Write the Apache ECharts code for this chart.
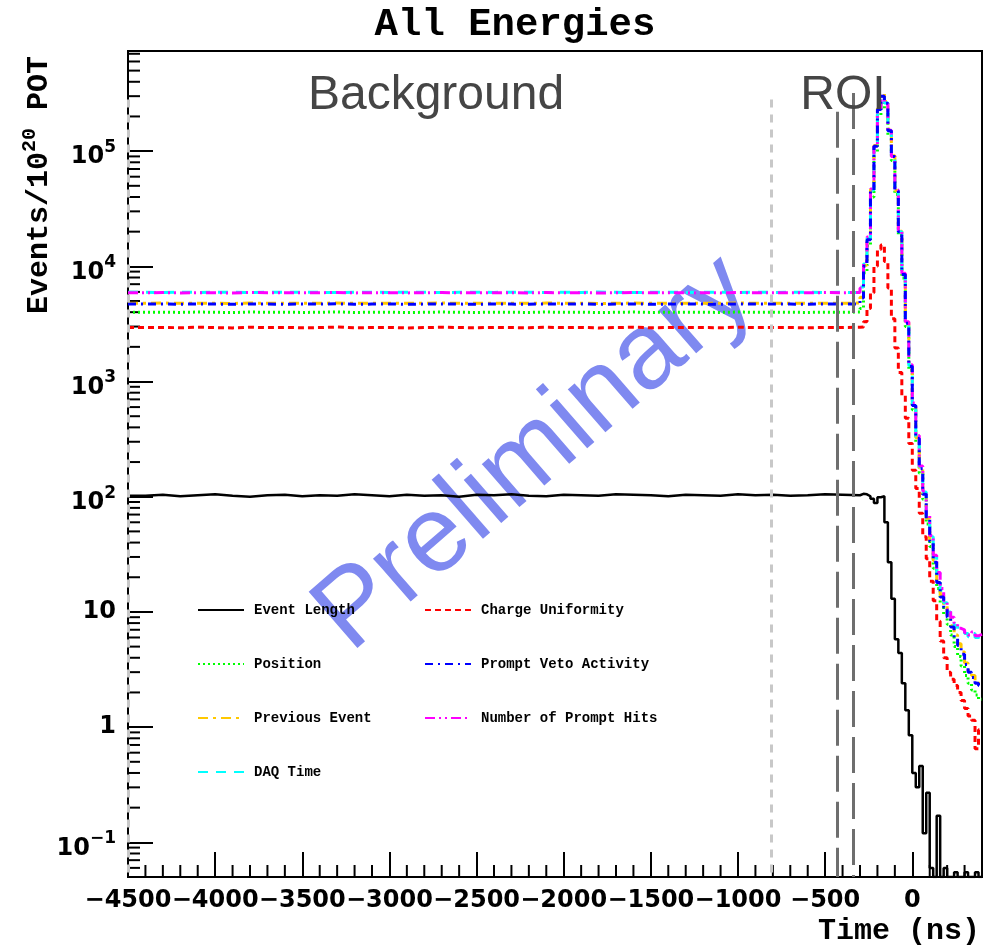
<!DOCTYPE html>
<html>
<head>
<meta charset="utf-8">
<title>All Energies</title>
<script src="https://cdn.jsdelivr.net/npm/echarts@6/dist/echarts.min.js"></script>
<style>
  html, body { margin: 0; padding: 0; background: #fff; }
  #chart { width: 986px; height: 945px; }
</style>
</head>
<body>
<div id="chart"></div>
<script>
// bin low edges in ns (100 ns bins in the background window, 20 ns around the peak), last value closes the last bin
const binEdges = [
  -4500, -4400, -4300, -4200, -4100, -4000, -3900, -3800, -3700, -3600,
  -3500, -3400, -3300, -3200, -3100, -3000, -2900, -2800, -2700, -2600,
  -2500, -2400, -2300, -2200, -2100, -2000, -1900, -1800, -1700, -1600,
  -1500, -1400, -1300, -1200, -1100, -1000, -900, -800, -700, -600,
  -500, -400, -300,
  -280, -260, -240, -220, -200, -180, -160, -140, -120, -100,
  -80, -60, -40, -20, 0, 20, 40, 60, 80, 100,
  120, 140, 160, 180, 200, 220, 240, 260, 280, 300,
  320, 340, 360, 380, 400
];

// events / 1e20 POT per bin
const eventLength = [
  102, 104, 101, 103, 105, 102, 100, 103, 104, 101,
  103, 102, 105, 103, 101, 104, 102, 103, 100, 104,
  103, 105, 102, 101, 104, 103, 102, 105, 104, 103,
  101, 104, 103, 102, 105, 103, 104, 102, 103, 105,
  104, 103, 106,
  105, 101, 96, 88, 99, 101, 60, 27, 13, 5.8,
  4.4, 2.4, 1.4, 0.85, 0.4, 0.3, 0.46, 0.12, 0.27, 0.06,
  0.05, 0.17, 0.05, 0.06, 0.05, 0.05, 0.055, 0.05, 0.05, 0.055,
  0.05, 0.05, 0.055, 0.05
];
const chargeUniformity = [
  2940, 2950, 2930, 2960, 2940, 2920, 2960, 2940, 2950, 2930,
  2940, 2970, 2930, 2940, 2950, 2920, 2940, 2960, 2940, 2930,
  2950, 2940, 2930, 2960, 2940, 2950, 2920, 2940, 2960, 2930,
  2940, 2950, 2940, 2930, 2960, 2940, 2950, 2940, 2930, 2950,
  2940, 2960, 2980,
  3300, 4300, 5900, 10000, 14000, 15300, 11000, 6500, 3500, 1950,
  1200, 760, 480, 290, 170, 118, 72, 45, 29, 18.5,
  12.5, 8.3, 5.6, 4.0, 3.0, 2.6, 2.3, 2.0, 1.7, 1.45,
  1.25, 1.15, 0.65, 0.95
];
const position = [
  3990, 4000, 3980, 4010, 3990, 3970, 4010, 3990, 4000, 3980,
  3990, 4020, 3980, 3990, 4000, 3970, 3990, 4010, 3990, 3980,
  4000, 3990, 3980, 4010, 3990, 4000, 3970, 3990, 4010, 3980,
  3990, 4000, 3990, 3980, 4010, 3990, 4000, 3990, 3980, 4000,
  3990, 4010, 4300,
  8800, 15000, 40000, 98000, 205000, 265000, 235000, 138000, 83000, 42000,
  18500, 7900, 3000, 1250, 570, 295, 160, 95, 58, 37,
  24, 16, 12, 9.5, 7.8, 6.3, 5.0, 4.1, 3.4, 2.8,
  2.4, 2.1, 1.9, 1.75
];
const promptVeto = [
  4700, 4720, 4690, 4710, 4700, 4680, 4720, 4700, 4690, 4710,
  4700, 4730, 4690, 4700, 4710, 4680, 4700, 4720, 4700, 4690,
  4710, 4700, 4690, 4720, 4700, 4710, 4680, 4700, 4720, 4690,
  4700, 4710, 4700, 4690, 4720, 4700, 4710, 4700, 4690, 4710,
  4700, 4720, 5300,
  10000, 17000, 46000, 110000, 230000, 300000, 260000, 150000, 90000, 45000,
  20000, 8500, 3200, 1350, 620, 320, 175, 105, 64, 41,
  27, 18, 13.5, 11, 9, 7.4, 6, 5.1, 4.3, 3.5,
  3.0, 2.7, 2.4, 2.3
];
const previousEvent = [
  4780, 4800, 4770, 4790, 4780, 4760, 4800, 4780, 4790, 4770,
  4780, 4810, 4770, 4780, 4790, 4770, 4780, 4800, 4780, 4770,
  4790, 4780, 4770, 4800, 4780, 4790, 4760, 4780, 4800, 4770,
  4780, 4790, 4780, 4770, 4800, 4780, 4790, 4780, 4770, 4790,
  4780, 4800, 5400,
  10200, 17200, 46500, 112000, 235000, 315000, 270000, 155000, 91000, 45500,
  20200, 8600, 3250, 1370, 630, 325, 178, 107, 65, 42,
  28, 18.5, 14, 11.5, 9.3, 7.6, 6.3, 5.3, 4.5, 3.6,
  3.1, 2.8, 2.5, 2.4
];
const promptHits = [
  5900, 5920, 5880, 5910, 5900, 5870, 5930, 5900, 5890, 5910,
  5900, 5940, 5880, 5900, 5910, 5880, 5900, 5920, 5900, 5890,
  5910, 5900, 5880, 5920, 5900, 5910, 5870, 5900, 5930, 5890,
  5900, 5910, 5900, 5880, 5920, 5900, 5910, 5900, 5890, 5920,
  5900, 5930, 6500,
  11000, 18000, 47000, 110000, 225000, 300000, 258000, 152000, 90000, 46000,
  20500, 8700, 3300, 1400, 650, 340, 185, 112, 70, 46,
  31, 22, 16, 12.5, 10.5, 9, 8, 7.2, 7.0, 6.6,
  6.3, 6.7, 6.2, 6.4
];
const daqTime = [
  5950, 5930, 5960, 5940, 5950, 5970, 5930, 5950, 5960, 5940,
  5950, 5920, 5960, 5950, 5940, 5970, 5950, 5930, 5950, 5960,
  5940, 5950, 5970, 5930, 5950, 5940, 5980, 5950, 5920, 5960,
  5950, 5940, 5950, 5970, 5930, 5950, 5940, 5950, 5960, 5930,
  5950, 5920, 6600,
  10500, 17500, 46000, 108000, 228000, 298000, 262000, 150000, 89000, 45500,
  20000, 8500, 3250, 1380, 640, 335, 182, 110, 69, 45,
  30, 21.5, 15.5, 12, 10, 8.8, 7.6, 7.0, 6.8, 6.5,
  6.1, 6.5, 6.0, 6.2
];

// cut lines: background window edges and ROI edges (time, top of the line)
const bgCutTimes = [-4500, -810];
const bgCutTop = 2.8e5;
const roiCutTimes = [-430, -340];
const roiCutTops = [2.2e5, 3.2e5];

const xMin = -4500, xMax = 400;
const yMin = 0.05, yMax = 7.4e5;

const legendLeft = ['Event Length', 'Position', 'Previous Event', 'DAQ Time'];
const legendRight = ['Charge Uniformity', 'Prompt Veto Activity', 'Number of Prompt Hits'];

// minor ticks (ROOT style)
const xMinorTicks = [];
for (let t = xMin + 100; t < xMax; t += 100) if (t % 500 !== 0) xMinorTicks.push(t);
const yMinorTicks = [];
for (let e = -2; e <= 5; e++) {
  for (let m = 2; m <= 9; m++) {
    const v = m * Math.pow(10, e);
    if (v > yMin * 1.01 && v < yMax) yMinorTicks.push(v);
  }
}

function toSteps(values) {
  const pts = values.map((v, i) => [binEdges[i], v]);
  pts.push([binEdges[values.length], values[values.length - 1]]);
  return pts;
}

function histo(name, values, color, dash, width) {
  return {
    name: name,
    type: 'line',
    step: 'end',
    symbol: 'none',
    clip: true,
    data: toSteps(values),
    lineStyle: { color: color, width: width, type: dash },
    itemStyle: { color: color },
    emphasis: { disabled: true }
  };
}

const mono = 'Liberation Mono';
const sans = 'DejaVu Sans';

function legendBox(names, left) {
  return {
    data: names, orient: 'vertical', left: left, top: 598,
    itemWidth: 46, itemHeight: 14, itemGap: 40, selectedMode: false,
    itemStyle: { opacity: 0 },
    textStyle: { fontFamily: mono, fontWeight: 'bold', fontSize: 14, color: '#000', padding: [0, 0, 0, 5] }
  };
}

const chart = echarts.init(document.getElementById('chart'));
chart.setOption({
  animation: false,
  backgroundColor: '#fff',
  grid: { left: 128, right: 4, top: 51, bottom: 68, show: true, borderColor: '#000', borderWidth: 2 },
  legend: [legendBox(legendLeft, 192), legendBox(legendRight, 419)],
  xAxis: {
    type: 'value', min: xMin, max: xMax, interval: 500,
    axisLine: { onZero: false, lineStyle: { color: '#000', width: 2 } },
    axisTick: { inside: true, length: 25, lineStyle: { color: '#000', width: 2 } },
    splitLine: { show: false },
    axisLabel: {
      showMaxLabel: false, margin: 12, color: '#000',
      fontFamily: sans, fontWeight: 'bold', fontSize: 24,
      formatter: v => (v < 0 ? '\u2212' + (-v) : String(v))
    }
  },
  yAxis: {
    type: 'log', logBase: 10, min: yMin, max: yMax,
    axisLine: { onZero: false, lineStyle: { color: '#000', width: 2 } },
    axisTick: { inside: true, length: 25, lineStyle: { color: '#000', width: 2 } },
    splitLine: { show: false },
    axisLabel: {
      showMinLabel: false, showMaxLabel: false, margin: 12, color: '#000',
      formatter: v => {
        const e = Math.round(Math.log10(v));
        if (e === 0) return '{p|1}';
        if (e === 1) return '{p|10}';
        return '{b|10}{s|' + (e < 0 ? '\u2212' + (-e) : e) + '}';
      },
      rich: {
        p: { fontFamily: sans, fontWeight: 'bold', fontSize: 24, color: '#000' },
        b: { fontFamily: sans, fontWeight: 'bold', fontSize: 24, lineHeight: 24, padding: [12, 0, 0, 0], color: '#000' },
        s: { fontFamily: sans, fontWeight: 'bold', fontSize: 17, lineHeight: 18, verticalAlign: 'top', color: '#000' }
      }
    }
  },
  series: [
    histo('Event Length', eventLength, '#000000', 'solid', 2.5),
    histo('Charge Uniformity', chargeUniformity, '#ff0000', [6, 4], 3),
    histo('Position', position, '#00ff00', [2, 3], 3),
    histo('Previous Event', previousEvent, '#ffc800', [10, 5, 3, 5], 3),
    histo('DAQ Time', daqTime, '#00ffff', [10, 8], 3),
    histo('Number of Prompt Hits', promptHits, '#ff00ff', [10, 4, 2, 4, 2, 4], 3),
    histo('Prompt Veto Activity', promptVeto, '#0000ff', [8, 5, 2, 5], 3),
    {
      name: 'cuts', type: 'line', data: [], silent: true,
      markLine: {
        silent: true, symbol: ['none', 'none'], label: { show: false },
        data: bgCutTimes.map(t => [
          { coord: [t, bgCutTop], lineStyle: { color: '#c8c8c8', width: 3, type: [8, 7] } },
          { coord: [t, yMin] }
        ]).concat(roiCutTimes.map((t, i) => [
          { coord: [t, roiCutTops[i]], lineStyle: { color: '#6e6e6e', width: 3, type: [36, 10] } },
          { coord: [t, yMin] }
        ]))
      }
    },
    {
      name: 'xMinor', type: 'custom', silent: true, clip: false, z: 3,
      data: xMinorTicks.map(t => [t, yMin]),
      renderItem: (params, api) => {
        const p = api.coord([api.value(0), api.value(1)]);
        return { type: 'line', shape: { x1: p[0], y1: p[1], x2: p[0], y2: p[1] - 12 }, style: { stroke: '#000', lineWidth: 2 } };
      }
    },
    {
      name: 'yMinor', type: 'custom', silent: true, clip: false, z: 3,
      data: yMinorTicks.map(v => [xMin, v]),
      renderItem: (params, api) => {
        const p = api.coord([api.value(0), api.value(1)]);
        return { type: 'line', shape: { x1: p[0], y1: p[1], x2: p[0] + 12, y2: p[1] }, style: { stroke: '#000', lineWidth: 2 } };
      }
    }
  ],
  graphic: [
    {
      type: 'text', x: 535, y: 454, rotation: 41 * Math.PI / 180, z: 1, silent: true,
      style: { text: 'Preliminary', fontFamily: 'Liberation Sans', fontSize: 108, fill: '#7f89f0', align: 'center', verticalAlign: 'middle' }
    },
    {
      type: 'text', x: 515, y: 25, z: 10,
      style: { text: 'All Energies', fontFamily: mono, fontWeight: 'bold', fontSize: 39, fill: '#000', align: 'center', verticalAlign: 'middle' }
    },
    {
      type: 'text', x: 980, y: 931, z: 10,
      style: { text: 'Time (ns)', fontFamily: mono, fontWeight: 'bold', fontSize: 30, fill: '#000', align: 'right', verticalAlign: 'middle' }
    },
    {
      type: 'text', x: 35, y: 185, rotation: Math.PI / 2, z: 10,
      style: {
        text: '{a|Events/10}{s|20}{a| POT}', align: 'center', verticalAlign: 'middle',
        rich: {
          a: { fontFamily: mono, fontWeight: 'bold', fontSize: 30, lineHeight: 30, padding: [8, 0, 0, 0], fill: '#000' },
          s: { fontFamily: mono, fontWeight: 'bold', fontSize: 20, lineHeight: 20, verticalAlign: 'top', fill: '#000' }
        }
      }
    },
    {
      type: 'text', x: 436, y: 96, z: 10,
      style: { text: 'Background', fontFamily: 'Liberation Sans', fontSize: 48, fill: '#454545', align: 'center', verticalAlign: 'middle' }
    },
    {
      type: 'text', x: 843, y: 96, z: 10,
      style: { text: 'ROI', fontFamily: 'Liberation Sans', fontSize: 48, fill: '#454545', align: 'center', verticalAlign: 'middle' }
    }
  ]
});
</script>
</body>
</html>
